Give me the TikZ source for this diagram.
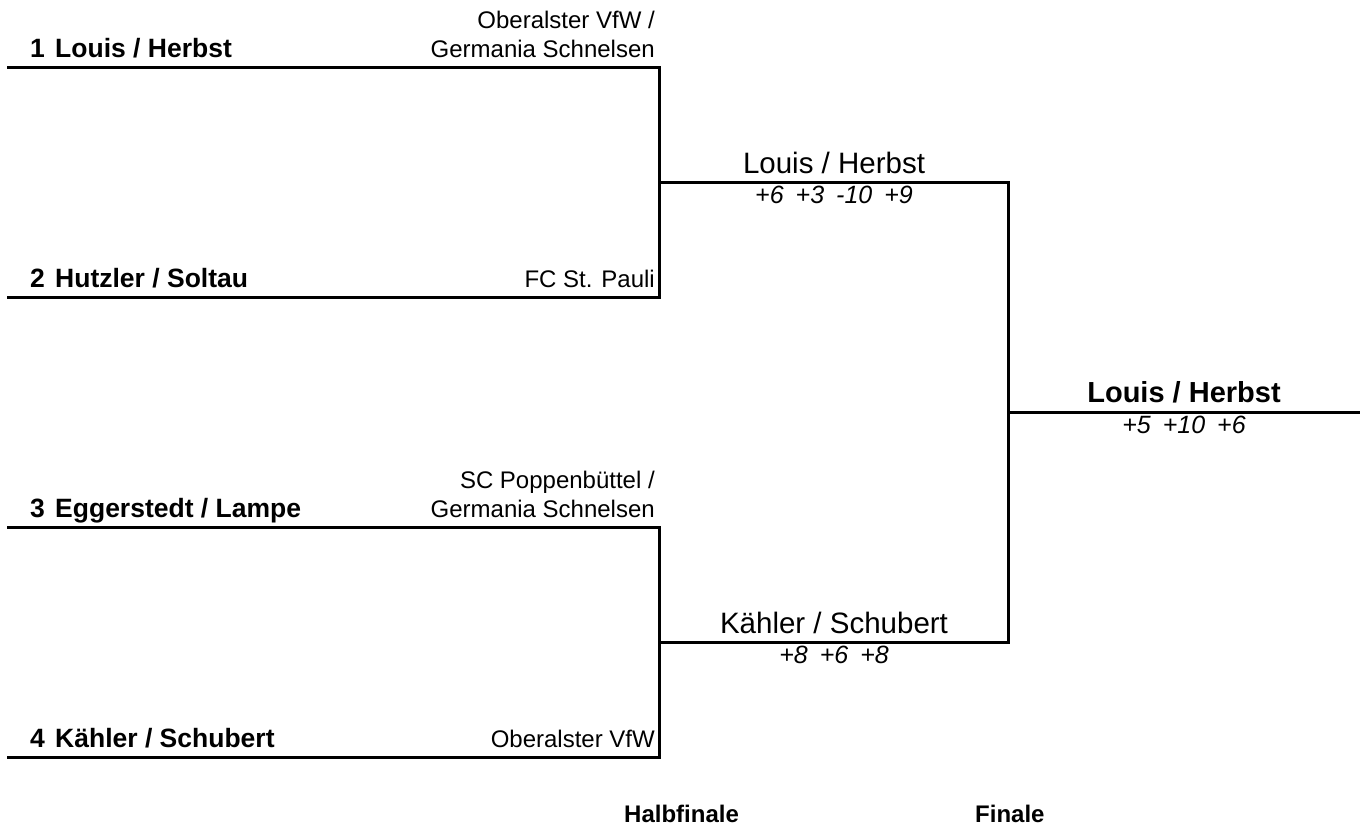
\documentclass[tikz,border=0pt]{standalone}
\usepackage{fontspec}
\setmainfont{Liberation Sans}
\begin{document}
\begin{tikzpicture}[x=1pt,y=-1pt,
  bline/.style={line width=3pt, line join=miter},
  team/.style={anchor=base west, inner sep=0pt, font=\fontsize{26.5}{30}\selectfont\bfseries},
  club/.style={anchor=base east, inner sep=0pt, align=right, font=\fontsize{24}{29}\selectfont},
  winner/.style={anchor=base, inner sep=0pt, font=\fontsize{29.5}{34}\selectfont},
  fwinner/.style={anchor=base, inner sep=0pt, font=\fontsize{29}{34}\selectfont\bfseries},
  score/.style={anchor=base, inner sep=0pt, font=\fontsize{25}{29}\selectfont\itshape},
  round/.style={anchor=base west, inner sep=0pt, font=\fontsize{24}{29}\selectfont\bfseries}]
\useasboundingbox (0,0) rectangle (1368,830);
\newcommand{\sg}{\hspace{12pt}}
% coordinates
\coordinate (t1s) at (7,67);   \coordinate (t1e) at (659,67);
\coordinate (t2s) at (7,297);  \coordinate (t2e) at (659,297);
\coordinate (t3s) at (7,527);  \coordinate (t3e) at (659,527);
\coordinate (t4s) at (7,757);  \coordinate (t4e) at (659,757);
\coordinate (s1s) at (659,182); \coordinate (s1e) at (1008,182);
\coordinate (s2s) at (659,642); \coordinate (s2e) at (1008,642);
\coordinate (fs) at (1008,412); \coordinate (fe) at (1360,412);
% lines
\draw[bline] (t1s) -- (t1e) -- (t2e) -- (t2s);
\draw[bline] (t3s) -- (t3e) -- (t4e) -- (t4s);
\draw[bline] (s1s) -- (s1e) -- (s2e) -- (s2s);
\draw[bline] (fs) -- (fe);
% team labels
\node[team] (n1) at (30,57) {1};
\node[team] (m1) at (55,57) {Louis / Herbst};
\node[team] (n2) at (30,287) {2};
\node[team] (m2) at (55,287) {Hutzler / Soltau};
\node[team] (n3) at (30,517) {3};
\node[team] (m3) at (55,517) {Eggerstedt / Lampe};
\node[team] (n4) at (30,747) {4};
\node[team] (m4) at (55,747) {Kähler / Schubert};
% clubs
\node[club] (c1a) at (655,28) {Oberalster VfW /};
\node[club] (c1b) at (655,57) {Germania Schnelsen};
\node[club] (c2) at (655,287) {FC St. Pauli};
\node[club] (c3a) at (655,488) {SC Poppenbüttel /};
\node[club] (c3b) at (655,517) {Germania Schnelsen};
\node[club] (c4) at (655,747) {Oberalster VfW};
% semis
\node[winner] (w1) at (834,173) {Louis / Herbst};
\node[score] (r1) at (834,203) {+6\sg+3\sg-10\sg+9};
\node[winner] (w2) at (834,633) {Kähler / Schubert};
\node[score] (r2) at (834,663) {+8\sg+6\sg+8};
% final
\node[fwinner] (w3) at (1184,402) {Louis / Herbst};
\node[score] (r3) at (1184,433) {+5\sg+10\sg+6};
% rounds
\node[round] (hf) at (624,822) {Halbfinale};
\node[round] (fi) at (975,822) {Finale};
\end{tikzpicture}
\end{document}
